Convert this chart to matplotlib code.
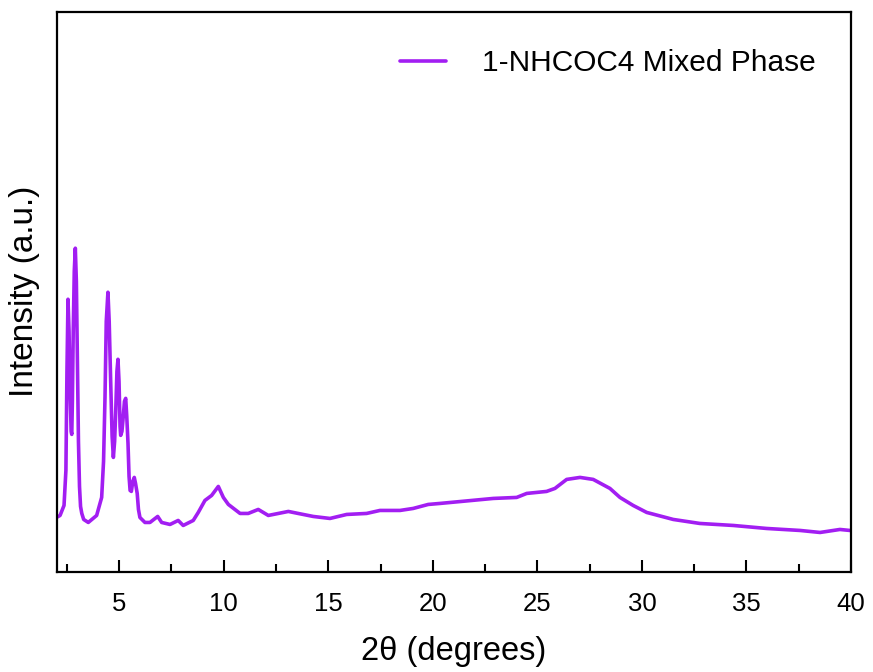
import matplotlib
matplotlib.use("Agg")
import matplotlib.pyplot as plt

# Powder XRD pattern of the 1-NHCOC4 mixed phase
two_theta = [
    2.00, 2.17, 2.36, 2.45, 2.50, 2.55, 2.60, 2.65, 2.70, 2.73, 2.76, 2.80, 2.85,
    2.90, 2.95, 3.00, 3.05, 3.10, 3.15, 3.21, 3.30, 3.52, 3.92, 4.16, 4.25, 4.32,
    4.38, 4.46, 4.52, 4.59, 4.66, 4.72, 4.78, 4.83, 4.89, 4.94, 4.99, 5.04, 5.07,
    5.13, 5.19, 5.25, 5.31, 5.36, 5.42, 5.47, 5.52, 5.58, 5.65, 5.72, 5.78, 5.86,
    5.92, 5.99, 6.23, 6.47, 6.84, 7.03, 7.43, 7.82, 8.06, 8.54, 8.78, 9.10, 9.42,
    9.74, 9.98, 10.22, 10.78, 11.17, 11.65, 12.13, 12.61, 13.09, 13.56, 14.28,
    15.08, 15.88, 16.83, 17.47, 18.43, 19.06, 19.78, 20.34, 22.89, 24.01, 24.49,
    25.44, 25.84, 26.40, 27.04, 27.67, 28.47, 28.95, 29.58, 30.23, 31.50, 32.77,
    34.37, 35.96, 37.57, 38.52, 39.47, 39.95,
]
intensity = [
    54, 56, 66, 101, 200, 272, 240, 180, 140, 137, 170, 240, 300,
    323, 290, 210, 130, 85, 65, 58, 52, 49, 56, 74, 110, 174,
    250, 279, 250, 191, 135, 114, 130, 158, 200, 212, 190, 145, 136,
    140, 154, 170, 173, 155, 128, 95, 81, 80, 90, 94, 88, 78,
    62, 54, 49, 49, 55, 49, 47, 51, 46, 51, 59, 71, 76,
    85, 74, 67, 58, 58, 62, 56, 58, 60, 58, 55,
    53, 57, 58, 61, 61, 63, 67, 68, 73, 74, 78,
    80, 83, 92, 94, 92, 83, 74, 66, 59, 52, 48,
    46, 43, 41, 39, 42, 41,
]
series_label = "1-NHCOC4 Mixed Phase"
x_ticks = [5, 10, 15, 20, 25, 30, 35, 40]

plt.rcParams["font.family"] = ["Liberation Sans", "DejaVu Sans"]

fig = plt.figure(figsize=(8.73, 6.72), dpi=100)
ax = fig.add_axes([56.5 / 873, (672 - 571.5) / 672,
                   (851 - 56.5) / 873, (571.5 - 12) / 672])

ax.plot(two_theta, intensity, color="#A21EF2", lw=2.6,
        solid_joinstyle="round", solid_capstyle="round", label=series_label)

ax.set_xlim(2, 40)
ax.set_ylim(0, 559)
ax.set_xticks(x_ticks)
ax.set_xticks([2.5 + 5 * i for i in range(8)], minor=True)
ax.set_yticks([])

for s in ax.spines.values():
    s.set_linewidth(1.6)

ax.tick_params(axis="x", which="major", direction="in", length=8.6, width=1.5,
               labelsize=18.5, pad=14.5)
ax.tick_params(axis="x", which="minor", direction="in", length=5.5, width=1.5)

ax.set_xlabel("2θ (degrees)", fontsize=23.5, labelpad=15)
ax.set_ylabel("Intensity (a.u.)", fontsize=24, labelpad=12)

ax.legend(loc="center right", bbox_to_anchor=(816 / 873, 1 - 63 / 672),
          bbox_transform=fig.transFigure, frameon=False, fontsize=21.5,
          handlelength=1.55, handletextpad=1.2, borderpad=0, borderaxespad=0)

fig.savefig("out.png", dpi=100)
